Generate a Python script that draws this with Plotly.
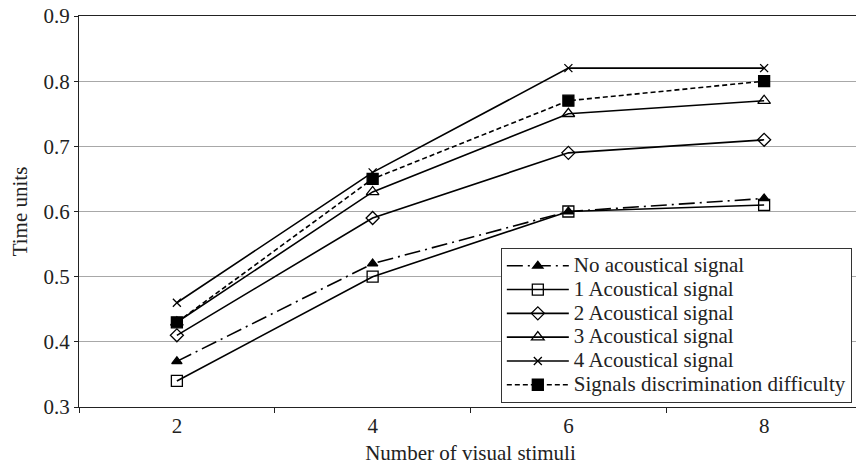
import plotly.graph_objects as go

categories = ["2", "4", "6", "8"]
no_signal = [0.37, 0.52, 0.60, 0.62]
one_signal = [0.34, 0.50, 0.60, 0.61]
two_signal = [0.41, 0.59, 0.69, 0.71]
three_signal = [0.43, 0.63, 0.75, 0.77]
four_signal = [0.46, 0.66, 0.82, 0.82]
discrimination = [0.43, 0.65, 0.77, 0.80]
y_ticks = [0.3, 0.4, 0.5, 0.6, 0.7, 0.8, 0.9]

FONT = "Liberation Serif"
TXT = "#222"
fig = go.Figure()

series = [
    ("No acoustical signal", no_signal, "16px,5px,2px,5px", "triangle-up", 9, "black"),
    ("1 Acoustical signal", one_signal, "solid", "square-open", 11, "black"),
    ("2 Acoustical signal", two_signal, "solid", "diamond-open", 10, "black"),
    ("3 Acoustical signal", three_signal, "solid", "triangle-up-open", 11, "black"),
    ("4 Acoustical signal", four_signal, "solid", "x-thin-open", 8, "black"),
    ("Signals discrimination difficulty", discrimination, "5px,3px", "square", 11, "black"),
]
for name, vals, dash, sym, size, col in series:
    fig.add_trace(go.Scatter(
        x=categories, y=vals,
        name='<span style="font-size:21px">' + name + "</span>",
        mode="lines+markers",
        line=dict(color="black", width=1.6, dash=dash),
        marker=dict(symbol=sym, size=size, color=col, line=dict(color="black", width=1.3)),
    ))

fig.update_layout(
    width=862, height=473,
    margin=dict(l=79, r=0, t=16, b=66),
    plot_bgcolor="white", paper_bgcolor="white",
    font=dict(family=FONT, size=21, color=TXT),
    showlegend=True,
    legend=dict(
        x=0.987, xanchor="right", y=0.407, yanchor="top",
        bgcolor="white", bordercolor="#333", borderwidth=1,
        font=dict(family=FONT, size=16, color=TXT),
        itemwidth=62, tracegroupgap=0,
    ),
    xaxis=dict(
        type="category", range=[-0.5, 3.5], automargin=False,
        showline=True, linecolor="#222", linewidth=1, mirror=True,
        ticks="outside", tickson="boundaries", ticklen=5, tickcolor="#222",
        showgrid=False,
        title=dict(text="Number of visual stimuli", font=dict(family=FONT, size=21, color=TXT), standoff=8),
        tickfont=dict(family=FONT, size=21, color=TXT),
    ),
    yaxis=dict(
        range=[0.3, 0.9], tickvals=y_ticks, tickformat=".1f", automargin=False,
        showline=True, linecolor="#222", linewidth=1,
        ticks="outside", ticklen=4, tickcolor="#222",
        showgrid=True, gridcolor="#a8a8a8", gridwidth=1,
        zeroline=False, ticklabeloverflow="allow",
        title=dict(text="Time units", font=dict(family=FONT, size=21, color=TXT), standoff=10),
        tickfont=dict(family=FONT, size=21, color=TXT),
    ),
)

fig.write_html(
    "out.html",
    config={"displayModeBar": False},
    post_script="document.body.style.margin='0';document.body.style.overflow='hidden';",
)
